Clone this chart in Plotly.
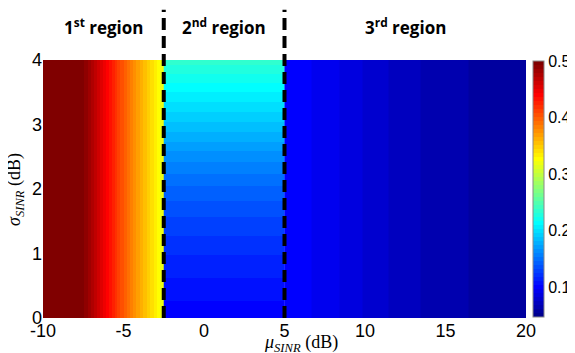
import plotly.graph_objects as go

# ---------------- data ----------------
# Region 1: value varies with mu only (cell centres, 0.5 dB cells from -10 to -2.5)
r1_mu = [-9.75, -9.25, -8.75, -8.25, -7.75, -7.25, -6.75, -6.25, -5.75,
         -5.25, -4.75, -4.25, -3.75, -3.25, -2.75]
r1_val = [0.500, 0.500, 0.500, 0.500, 0.499, 0.487, 0.469, 0.450, 0.430,
          0.410, 0.390, 0.372, 0.356, 0.340, 0.323]

# Region 2: value varies with sigma only (mu from -2.5 to 5)
r2_mu = [-0.625, 3.125]
r2_sigma = [0.0, 0.5, 1.0, 1.5, 2.0, 2.5, 3.0, 3.5, 4.0]
r2_val = [0.098, 0.108, 0.118, 0.130, 0.144, 0.163, 0.186, 0.209, 0.235]

# Region 3: value varies with mu only (1 dB cells from 5 to 20)
r3_mu = [5.5, 6.5, 7.5, 8.5, 9.5, 10.5, 11.5, 12.5, 13.5, 14.5, 15.5,
         16.5, 17.5, 18.5, 19.5]
r3_val = [0.100, 0.097, 0.094, 0.089, 0.084, 0.079, 0.075, 0.071, 0.068,
          0.065, 0.063, 0.061, 0.059, 0.057, 0.055]

sigma_full = [0.0, 4.0]
region_bounds = [-2.5, 5.0]
region_labels = ["<b>1<sup>st</sup> region</b>", "<b>2<sup>nd</sup> region</b>",
                 "<b>3<sup>rd</sup> region</b>"]
region_centres = [-6.25, 1.25, 12.5]
x_ticks = [-10, -5, 0, 5, 10, 15, 20]
y_ticks = [0, 1, 2, 3, 4]
cbar_ticks = [0.1, 0.2, 0.3, 0.4, 0.5]
c_min, c_max = 0.047, 0.5

# ---------------- MATLAB jet(64) as a stepped colour scale ----------------
def matlab_jet(m=64):
    n = -(-m // 4)
    u = [i / n for i in range(1, n + 1)] + [1.0] * (n - 1) + [i / n for i in range(n, 0, -1)]
    g0 = -(-n // 2) - (1 if m % 4 == 1 else 0)
    g = [g0 + i for i in range(1, len(u) + 1)]
    r = [v + n for v in g]
    b = [v - n for v in g]
    g = [v for v in g if v <= m]
    r = [v for v in r if v <= m]
    b = [v for v in b if v >= 1]
    J = [[0.0, 0.0, 0.0] for _ in range(m)]
    for i, row in enumerate(r):
        J[row - 1][0] = u[i]
    for i, row in enumerate(g):
        J[row - 1][1] = u[i]
    off = len(u) - len(b)
    for i, row in enumerate(b):
        J[row - 1][2] = u[off + i]
    return J

jet = matlab_jet(64)
cscale = []
for k, (rr, gg, bb) in enumerate(jet):
    col = "rgb(%d,%d,%d)" % (round(rr * 255), round(gg * 255), round(bb * 255))
    cscale.append([k / 64, col])
    cscale.append([(k + 1) / 64 if k < 63 else 1.0, col])

# ---------------- figure ----------------
fig = go.Figure()
fig.add_trace(go.Heatmap(x=r1_mu, y=sigma_full, z=[r1_val, r1_val],
                         coloraxis="coloraxis", zsmooth="best", hoverinfo="skip"))
fig.add_trace(go.Heatmap(x=r2_mu, y=r2_sigma, z=[[v, v] for v in r2_val],
                         coloraxis="coloraxis", zsmooth="best", hoverinfo="skip"))
fig.add_trace(go.Heatmap(x=r3_mu, y=sigma_full, z=[r3_val, r3_val],
                         coloraxis="coloraxis", zsmooth="best", hoverinfo="skip"))

for xb in region_bounds:
    fig.add_shape(type="line", xref="x", yref="paper", x0=xb, x1=xb, y0=0, y1=1.195,
                  line=dict(color="black", width=4, dash="12px,6px"), layer="above")

for txt, xc in zip(region_labels, region_centres):
    fig.add_annotation(text=txt, x=xc, xref="x", y=1.13, yref="paper",
                       xanchor="center", yanchor="middle",
                       showarrow=False, font=dict(family="Open Sans", size=17, color="black"))

fig.add_annotation(text="<i>μ</i><sub><i>SINR</i></sub> (dB)", xref="paper", x=0.534,
                   yref="paper", y=-0.1, xanchor="center", yanchor="middle", showarrow=False,
                   font=dict(family="Liberation Serif", size=18, color="black"))
fig.add_annotation(text="<i>σ</i><sub><i>SINR</i></sub> (dB)", xref="paper", x=-0.058,
                   yref="paper", y=0.5, xanchor="center", yanchor="middle",
                   textangle=-90, showarrow=False,
                   font=dict(family="Liberation Serif", size=18, color="black"))

tickfont = dict(family="Liberation Sans", size=18, color="black")
cbfont = dict(family="Liberation Sans", size=16, color="black")
fig.update_layout(
    width=567, height=345,
    margin=dict(l=35, r=49, t=52, b=35, autoexpand=False),
    paper_bgcolor="white", plot_bgcolor="white",
    showlegend=False,
    xaxis=dict(range=[-10, 20], tickvals=x_ticks, ticktext=[str(v) for v in x_ticks],
               showgrid=False, zeroline=False, showline=False, ticks="",
               tickfont=tickfont, automargin=False),
    yaxis=dict(range=[0, 4], tickvals=y_ticks, showgrid=False, zeroline=False,
               showline=False, ticks="", tickfont=tickfont, automargin=False),
    coloraxis=dict(
        cmin=c_min, cmax=c_max, colorscale=cscale,
        colorbar=dict(x=1.0145, xanchor="left", xref="paper", y=0.5, yanchor="middle",
                      len=0.992, lenmode="fraction", thickness=11, thicknessmode="pixels",
                      outlinewidth=1, outlinecolor="#888888",
                      tickvals=cbar_ticks, ticktext=["0.1", "0.2", "0.3", "0.4", "0.5"],
                      ticks="", tickfont=cbfont, xpad=0, ypad=0),
    ),
)

fig.write_html("out.html")
